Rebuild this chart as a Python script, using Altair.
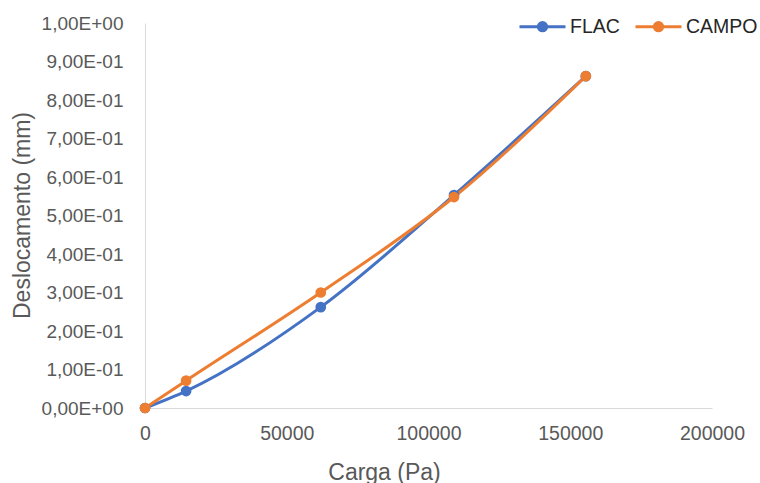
import altair as alt
import pandas as pd

series_names = ["FLAC", "CAMPO"]
carga = [0, 14500, 62000, 109000, 155500]
flac = [0.0, 0.044, 0.262, 0.553, 0.862]
campo = [0.0, 0.071, 0.300, 0.548, 0.862]
y_tick_labels = ["0,00E+00", "1,00E-01", "2,00E-01", "3,00E-01", "4,00E-01",
                 "5,00E-01", "6,00E-01", "7,00E-01", "8,00E-01", "9,00E-01", "1,00E+00"]
x_ticks = [0, 50000, 100000, 150000, 200000]
colors = ["#4472C4", "#ED7D31"]

rows = []
for name, vals in zip(series_names, [flac, campo]):
    for i, (c, v) in enumerate(zip(carga, vals)):
        rows.append({"serie": name, "carga": c, "desl": v, "ordem": i})
df = pd.DataFrame(rows)

label_expr = "[" + ",".join("'%s'" % s for s in y_tick_labels) + "][round(datum.value*10)]"

FONT = "Liberation Sans"
sym_path = "M-1,0L1,0M-0.18,0A0.18,0.18,0,1,1,0.18,0A0.18,0.18,0,1,1,-0.18,0Z"

color = alt.Color(
    "serie:N",
    scale=alt.Scale(domain=series_names, range=colors),
    sort=series_names,
    legend=alt.Legend(
        title=None, orient="none", direction="horizontal",
        legendX=373, legendY=-21,
        symbolType=sym_path, symbolSize=2116, symbolStrokeWidth=3,
        labelFont=FONT, labelFontSize=19.5, labelColor="#262626",
        labelOffset=3, columnPadding=9,
    ),
)

x = alt.X("carga:Q", scale=alt.Scale(domain=[0, 200000], nice=False),
          axis=alt.Axis(title="Carga (Pa)", values=x_ticks, format="d", grid=False,
                        ticks=False, domainColor="#D9D9D9", domainWidth=1,
                        labelFlush=False, labelOverlap=False,
                        labelFont=FONT, labelFontSize=19.5, labelColor="#595959",
                        labelPadding=16, titleFont=FONT, titleFontSize=23,
                        titleFontWeight="normal", titleColor="#595959",
                        titleX=239, titleY=64, titleBaseline="middle"))
y = alt.Y("desl:Q", scale=alt.Scale(domain=[0, 1], nice=False),
          axis=alt.Axis(title="Deslocamento (mm)", values=[i / 10 for i in range(11)],
                        labelExpr=label_expr, grid=False, ticks=False,
                        labelFlush=False, labelOverlap=False,
                        domainColor="#D9D9D9", domainWidth=1,
                        labelFont=FONT, labelFontSize=19, labelColor="#595959",
                        labelPadding=22, titleFont=FONT, titleFontSize=23,
                        titleFontWeight="normal", titleColor="#595959",
                        titleX=-123, titleY=192, titleBaseline="middle"))

base = alt.Chart(df)
lines = base.mark_line(interpolate="monotone", strokeWidth=3).encode(
    x=x, y=y, color=color, order="ordem:Q",
    detail="serie:N")
points = base.mark_point(filled=True, size=115, opacity=1).encode(
    x=x, y=y, color=color)

chart = alt.layer(lines, points).properties(
    width=567, height=385,
    background="white",
    autosize=alt.AutoSizeParams(type="none"),
    padding={"left": 145, "top": 23, "right": 48, "bottom": 75},
).configure_view(stroke=None)

chart.save("out.html", embed_options={"renderer": "svg", "actions": False})
